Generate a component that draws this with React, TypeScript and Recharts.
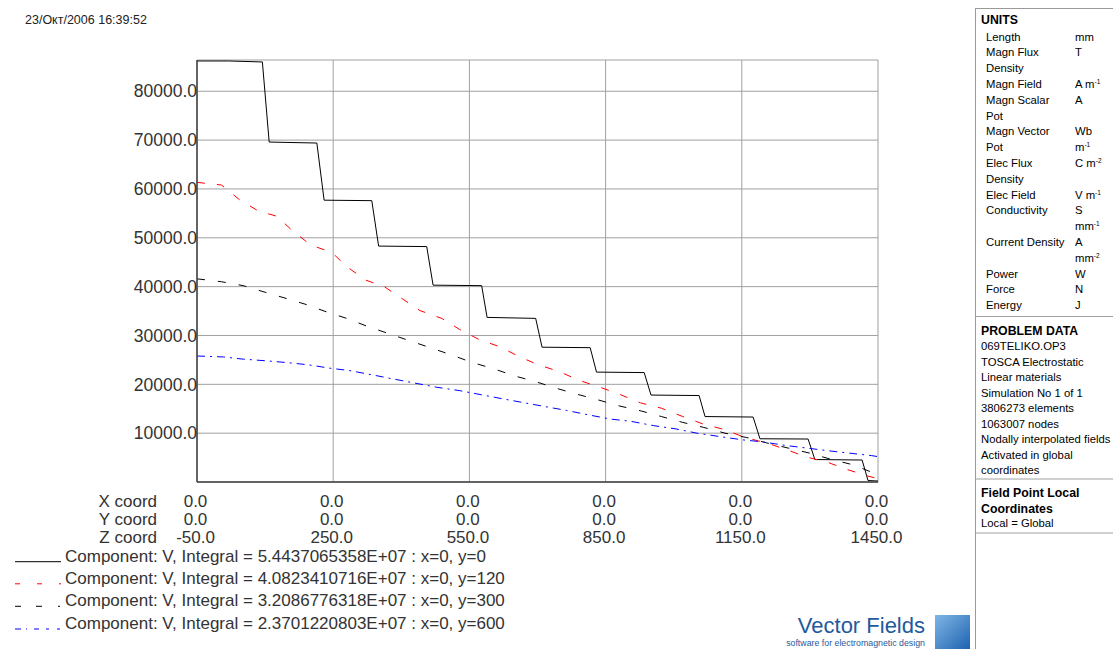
import React from 'react';
import { LineChart, Line, XAxis, YAxis, CartesianGrid } from 'recharts';

// ---------- data ----------
const zTicks = [-50, 250, 550, 850, 1150, 1450];
const xCoordLabels = ['0.0', '0.0', '0.0', '0.0', '0.0', '0.0'];
const yCoordLabels = ['0.0', '0.0', '0.0', '0.0', '0.0', '0.0'];
const vTicks = [10000, 20000, 30000, 40000, 50000, 60000, 70000, 80000];

// y=0 (solid black)
const y0Z = [-50, 20, 94, 109, 214, 230, 335, 350, 456, 470, 577, 589, 696, 710, 816, 830, 935, 950, 1056, 1069, 1175, 1190, 1296, 1311, 1415, 1428, 1450];
const y0V = [86200, 86200, 86000, 69600, 69400, 57700, 57600, 48300, 48200, 40300, 40200, 33700, 33500, 27600, 27500, 22500, 22400, 17800, 17700, 13400, 13300, 8850, 8800, 4600, 4500, 300, 200];

// y=120 (red dashed)
const y120Z = [-50, 4, 45, 85, 126, 162, 201, 247, 280, 320, 364, 404, 441, 489, 529, 573, 617, 661, 702, 748, 792, 838, 882, 927, 973, 1020, 1064, 1109, 1161, 1205, 1249, 1293, 1340, 1384, 1428, 1450];
const y120V = [61350, 60800, 57700, 55500, 54400, 51300, 48500, 47000, 44100, 41400, 39900, 37400, 35100, 33500, 31200, 29100, 27700, 25600, 24000, 22600, 20800, 19400, 17900, 16200, 15100, 13400, 11900, 10800, 9000, 8000, 6600, 5100, 4000, 2500, 1200, 700];

// y=300 (black dashed)
const y300Z = [-50, 4, 52, 100, 146, 192, 236, 283, 327, 375, 419, 467, 511, 555, 603, 650, 694, 741, 786, 834, 879, 926, 973, 1020, 1065, 1113, 1161, 1205, 1252, 1300, 1348, 1396, 1436, 1450];
const y300V = [41600, 41000, 40200, 38850, 37600, 36300, 34800, 33400, 31800, 30300, 28900, 27400, 26000, 24500, 23200, 21700, 20600, 19200, 18000, 16800, 15600, 14600, 13400, 12200, 11200, 10000, 9100, 8000, 6950, 5900, 4600, 3500, 2000, 1700];

// y=600 (blue dash-dot)
const y600Z = [-50, 8, 52, 104, 148, 195, 243, 287, 338, 382, 430, 478, 529, 577, 625, 672, 716, 764, 812, 860, 907, 955, 1003, 1051, 1098, 1150, 1197, 1245, 1293, 1340, 1388, 1436, 1450];
const y600V = [25800, 25600, 25150, 24800, 24450, 24000, 23300, 22800, 21900, 21100, 20250, 19400, 18700, 17850, 17000, 16200, 15450, 14650, 13750, 12900, 12400, 11550, 10900, 10000, 9350, 8650, 8200, 7500, 6950, 6400, 5900, 5400, 5200];

const legendLabels = [
  'Component: V, Integral = 5.4437065358E+07 : x=0, y=0',
  'Component: V, Integral = 4.0823410716E+07 : x=0, y=120',
  'Component: V, Integral = 3.2086776318E+07 : x=0, y=300',
  'Component: V, Integral = 2.3701220803E+07 : x=0, y=600',
];
const seriesColors = ['#000000', '#ff0000', '#000000', '#0000ff'];
const seriesDash = [undefined, '8 12', '8 13', '8 5 2 5'];
const legendDash = [undefined, '5 17 5 17 2 100', '6 15 6 16 2 100', '6 5 1 7 5 7 3 8 3 100'];

const unitRows: [string, string, string][] = [
  ['Length', 'mm', ''],
  ['Magn Flux', 'T', ''],
  ['Density', '', ''],
  ['Magn Field', 'A m', '-1'],
  ['Magn Scalar', 'A', ''],
  ['Pot', '', ''],
  ['Magn Vector', 'Wb', ''],
  ['Pot', 'm', '-1'],
  ['Elec Flux', 'C m', '-2'],
  ['Density', '', ''],
  ['Elec Field', 'V m', '-1'],
  ['Conductivity', 'S', ''],
  ['', 'mm', '-1'],
  ['Current Density', 'A', ''],
  ['', 'mm', '-2'],
  ['Power', 'W', ''],
  ['Force', 'N', ''],
  ['Energy', 'J', ''],
];
const problemRows = [
  '069TELIKO.OP3',
  'TOSCA Electrostatic',
  'Linear materials',
  'Simulation No 1 of 1',
  '3806273 elements',
  '1063007 nodes',
  'Nodally interpolated fields',
  'Activated in global',
  'coordinates',
];
const localRows = ['Field Point Local', 'Coordinates'];

const toData = (zs: number[], vs: number[]) => zs.map((z, i) => ({ z, v: vs[i] }));
const seriesData = [toData(y0Z, y0V), toData(y120Z, y120V), toData(y300Z, y300V), toData(y600Z, y600V)];

const FONT = '"Liberation Sans", Arial, sans-serif';
const TXT = '#333333';

const ZTick = (props: any) => {
  const { x, y, payload } = props;
  const i = zTicks.indexOf(payload.value);
  const fs = 17;
  return (
    <g fontFamily={FONT} fontSize={fs} fill={TXT}>
      {i === 0 && (
        <g textAnchor="end">
          <text x={x - 40} y={y + 24.5}>X coord</text>
          <text x={x - 40} y={y + 43}>Y coord</text>
          <text x={x - 40} y={y + 61}>Z coord</text>
        </g>
      )}
      <text x={x - 1.5} y={y + 24.5} textAnchor="middle">{xCoordLabels[i]}</text>
      <text x={x - 1.5} y={y + 43} textAnchor="middle">{yCoordLabels[i]}</text>
      <text x={x - 1.5} y={y + 61} textAnchor="middle">{payload.value.toFixed(1)}</text>
    </g>
  );
};

export default function App() {
  const legendBase = [561.7, 583.8, 606.3, 629];
  const unitY0 = 36.5;
  const unitStep = 15.8;
  const probY0 = 346;
  const probStep = 15.5;
  return (
    <div style={{ position: 'absolute', left: 0, top: 0, width: 1113, height: 649, background: '#fff', overflow: 'hidden', fontFamily: FONT }}>
      <div style={{ position: 'absolute', left: 0, top: 0 }}>
        <LineChart width={970} height={649} margin={{ top: 60, right: 92, bottom: 97, left: 0 }}>
          <CartesianGrid stroke="#a0a0a0" strokeWidth={1} />
          <XAxis
            type="number"
            dataKey="z"
            domain={[-50, 1450]}
            ticks={zTicks}
            interval={0}
            height={70}
            tickLine={false}
            tickSize={0}
            tickMargin={0}
            axisLine={{ stroke: '#404040', strokeWidth: 1.5 }}
            tick={<ZTick />}
            allowDataOverflow
          />
          <YAxis
            type="number"
            domain={[0, 86400]}
            ticks={vTicks}
            interval={0}
            width={197}
            tickLine={false}
            tickSize={0}
            tickMargin={0}
            axisLine={{ stroke: '#404040', strokeWidth: 1.5 }}
            tick={{ fontSize: 17.5, fill: TXT, fontFamily: FONT }}
            tickFormatter={(v: number) => v.toFixed(1)}
            allowDataOverflow
          />
          {seriesData.map((d, i) => (
            <Line
              key={i}
              data={d}
              dataKey="v"
              type="linear"
              stroke={seriesColors[i]}
              strokeWidth={1}
              strokeDasharray={seriesDash[i]}
              dot={false}
              activeDot={false}
              isAnimationActive={false}
            />
          ))}
        </LineChart>
      </div>
      <svg width={1113} height={649} style={{ position: 'absolute', left: 0, top: 0, pointerEvents: 'none' }} fontFamily={FONT}>
        {/* timestamp */}
        <text x={25} y={23.5} fontSize={12.5} fill="#222">23/Окт/2006 16:39:52</text>
        {/* legend */}
        {legendLabels.map((lab, i) => (
          <g key={i}>
            <line x1={15} x2={61} y1={legendBase[i]} y2={legendBase[i]} stroke={seriesColors[i]} strokeWidth={1} strokeDasharray={legendDash[i]} />
            <text x={65} y={legendBase[i]} fontSize={17} fill={TXT}>{lab}</text>
          </g>
        ))}
        {/* logo */}
        <text x={925} y={633} fontSize={22} fill="#1f5a9c" textAnchor="end">Vector Fields</text>
        <text x={925} y={646} fontSize={8.8} fill="#1f5a9c" textAnchor="end">software for electromagnetic design</text>
        <defs>
          <linearGradient id="lg" x1="0" y1="0" x2="1" y2="1">
            <stop offset="0" stopColor="#7fb6e6" />
            <stop offset="1" stopColor="#1e63b0" />
          </linearGradient>
        </defs>
        <rect x={935} y={615} width={35} height={34} fill="url(#lg)" />
        {/* panel */}
        <line x1={975.5} y1={8} x2={975.5} y2={649} stroke="#9a9a9a" />
        <line x1={975} y1={8.5} x2={1113} y2={8.5} stroke="#9a9a9a" />
        <text x={981} y={23.5} fontSize={12.3} fontWeight="bold" fill="#000">UNITS</text>
        {unitRows.map((r, i) => {
          const by = unitY0 + i * unitStep + 4;
          return (
            <g key={i} fontSize={11.3} fill="#000">
              {r[0] && <text x={986} y={by}>{r[0]}</text>}
              {r[1] && (
                <text x={1075} y={by}>
                  {r[1]}
                  {r[2] && <tspan fontSize={6.5} dy={-4}>{r[2]}</tspan>}
                </text>
              )}
            </g>
          );
        })}
        <line x1={976} y1={316.5} x2={1113} y2={316.5} stroke="#a0a0a0" />
        <line x1={976} y1={317.5} x2={1113} y2={317.5} stroke="#ffffff" />
        <text x={981} y={334.5} fontSize={12.3} fontWeight="bold" fill="#000">PROBLEM DATA</text>
        {problemRows.map((t, i) => (
          <text key={i} x={981} y={probY0 + i * probStep + 4} fontSize={11.3} fill="#000">{t}</text>
        ))}
        <line x1={976} y1={479} x2={1113} y2={479} stroke="#a0a0a0" />
        {localRows.map((t, i) => (
          <text key={i} x={981} y={496.5 + i * 16} fontSize={12.3} fontWeight="bold" fill="#000">{t}</text>
        ))}
        <text x={981} y={527} fontSize={11.3} fill="#000">Local = Global</text>
        <line x1={976} y1={533} x2={1113} y2={533} stroke="#a0a0a0" />
      </svg>
    </div>
  );
}
